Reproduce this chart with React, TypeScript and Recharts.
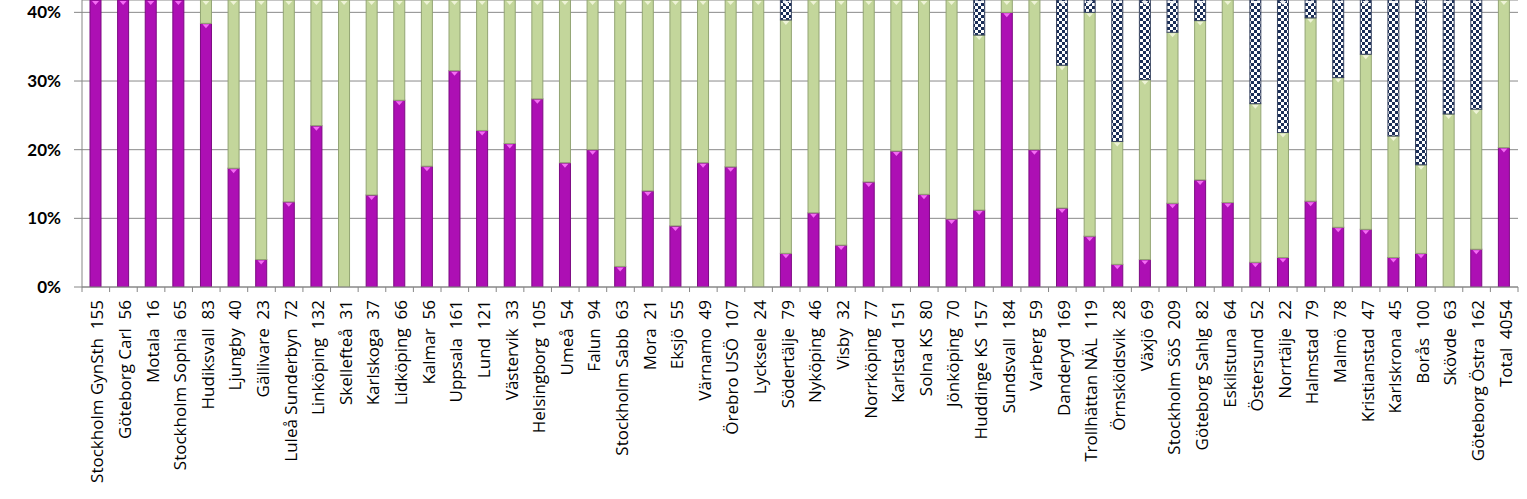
import React from 'react';
import { BarChart, Bar, XAxis, YAxis, CartesianGrid } from 'recharts';

const categories = [
  'Stockholm GynSth  155', 'Göteborg Carl  56', 'Motala  16', 'Stockholm Sophia  65', 'Hudiksvall  83',
  'Ljungby  40', 'Gällivare  23', 'Luleå Sunderbyn  72', 'Linköping  132', 'Skellefteå  31',
  'Karlskoga  37', 'Lidköping  66', 'Kalmar  56', 'Uppsala  161', 'Lund  121',
  'Västervik  33', 'Helsingborg  105', 'Umeå  54', 'Falun  94', 'Stockholm Sabb  63',
  'Mora  21', 'Eksjö  55', 'Värnamo  49', 'Örebro USÖ  107', 'Lycksele  24',
  'Södertälje  79', 'Nyköping  46', 'Visby  32', 'Norrköping  77', 'Karlstad  151',
  'Solna KS  80', 'Jönköping  70', 'Huddinge KS  157', 'Sundsvall  184', 'Varberg  59',
  'Danderyd  169', 'Trollhättan NÄL  119', 'Örnsköldsvik  28', 'Växjö  69', 'Stockholm SöS  209',
  'Göteborg Sahlg  82', 'Eskilstuna  64', 'Östersund  52', 'Norrtälje  22', 'Halmstad  79',
  'Malmö  78', 'Kristianstad  47', 'Karlskrona  45', 'Borås  100', 'Skövde  63',
  'Göteborg Östra  162', 'Total  4054',
];

// bottom segment (magenta), %
const magentaPct = [
  62, 55, 69, 52, 38.4, 17.3, 4.0, 12.4, 23.5, 0,
  13.4, 27.2, 17.6, 31.5, 22.8, 20.9, 27.4, 18.1, 20.0, 3.0,
  14.0, 8.9, 18.1, 17.5, 0, 4.9, 10.8, 6.1, 15.3, 19.8,
  13.5, 9.9, 11.2, 40.0, 20.0, 11.5, 7.4, 3.3, 4.0, 12.2,
  15.6, 12.3, 3.6, 4.3, 12.5, 8.7, 8.4, 4.3, 4.9, 0,
  5.5, 20.3,
];

// middle segment (green), %
const greenPct = [
  38, 45, 31, 48, 61.6, 82.7, 96.0, 87.6, 76.5, 100,
  86.6, 72.8, 82.4, 68.5, 77.2, 79.1, 72.6, 81.9, 80.0, 97.0,
  86.0, 91.1, 81.9, 82.5, 100, 34.0, 89.2, 93.9, 84.7, 80.2,
  86.5, 90.1, 25.5, 60.0, 80.0, 20.8, 32.6, 17.9, 26.2, 24.9,
  23.2, 87.7, 23.1, 18.2, 26.7, 21.8, 25.5, 17.7, 12.9, 25.2,
  20.4, 79.7,
];

// top segment (checkered), %
const checkPct = [
  0, 0, 0, 0, 0, 0, 0, 0, 0, 0,
  0, 0, 0, 0, 0, 0, 0, 0, 0, 0,
  0, 0, 0, 0, 0, 61.1, 0, 0, 0, 0,
  0, 0, 63.3, 0, 0, 67.7, 60.0, 78.8, 69.8, 62.9,
  61.2, 0, 73.3, 77.5, 60.8, 69.5, 66.1, 78.0, 82.2, 74.8,
  74.1, 0,
];

const yTicks = [0, 10, 20, 30, 40];

const data = categories.map((name, i) => ({
  name,
  a: magentaPct[i],
  b: greenPct[i],
  c: checkPct[i],
}));

const W = 1527;
const H = 499;
const Y_AXIS_W = 82;
const RIGHT = 9;
const BAND = (W - Y_AXIS_W - RIGHT) / categories.length;
const FONT = 'Lato, "Open Sans", sans-serif';
const LABEL_FONT = '"Open Sans", sans-serif';

function makeSegment(fill: string, edge: string, cap: string) {
  return (props: any) => {
    const { x, y, width, height } = props;
    if (!height || height <= 0) return <g />;
    const cx = x + width / 2;
    return (
      <g>
        <rect x={x} y={y} width={width} height={height} fill={fill} stroke={edge} strokeWidth={1} />
        {height > 5 && (
          <polygon
            points={`${cx - 3.5},${y + 1} ${cx + 3.5},${y + 1} ${cx},${y + 5}`}
            fill={cap}
          />
        )}
      </g>
    );
  };
}

const MagentaBar = makeSegment('#ad0fb4', '#7c0a82', '#f46cf4');
const GreenBar = makeSegment('#c3d69b', '#93a474', '#eef3d6');
const CheckBar = makeSegment('url(#checker)', '#3a4662', '#f4f6fa');

function CategoryTick(props: any) {
  const { x, y, payload, index } = props;
  const last = index === categories.length - 1;
  return (
    <g>
      <line x1={x - BAND / 2} y1={y} x2={x - BAND / 2} y2={y + 5} stroke="#868686" />
      {last && <line x1={x + BAND / 2} y1={y} x2={x + BAND / 2} y2={y + 5} stroke="#868686" />}
      <text
        transform={`translate(${x + 1},${y + 13}) rotate(-90)`}
        textAnchor="end"
        dominantBaseline="central"
        fontSize={17}
        fontFamily={LABEL_FONT}
        fill="#000"
        style={{ whiteSpace: 'pre' }}
      >
        {payload.value}
      </text>
    </g>
  );
}

export default function App() {
  return (
    <div style={{ position: 'absolute', left: 0, top: 0, width: W, height: H, background: '#fff' }}>
      <svg width={0} height={0} style={{ position: 'absolute' }}>
        <defs>
          <pattern id="checker" width={6} height={6} patternUnits="userSpaceOnUse">
            <rect width={6} height={6} fill="#ffffff" />
            <rect width={3} height={3} fill="#1a2e58" />
            <rect x={3} y={3} width={3} height={3} fill="#1a2e58" />
          </pattern>
        </defs>
      </svg>
      <BarChart
        width={W}
        height={H}
        data={data}
        margin={{ top: 0, right: RIGHT, left: 0, bottom: 0 }}
        barSize={11}
      >
        <CartesianGrid vertical={false} stroke="#8a8a8a" />
        <XAxis
          dataKey="name"
          interval={0}
          height={212}
          tickSize={0}
          tickMargin={0}
          tick={<CategoryTick />}
          axisLine={{ stroke: '#868686' }}
          tickLine={false}
        />
        <YAxis
          width={Y_AXIS_W}
          domain={[0, 41.8]}
          allowDataOverflow
          ticks={yTicks}
          tickFormatter={(v: number) => `${v}%`}
          tickSize={8}
          tickMargin={13}
          axisLine={{ stroke: '#868686' }}
          tickLine={{ stroke: '#868686' }}
          tick={{ fill: '#000', fontSize: 17, fontWeight: 700, fontFamily: FONT }}
        />
        <Bar dataKey="a" stackId="s" shape={MagentaBar} isAnimationActive={false} />
        <Bar dataKey="b" stackId="s" shape={GreenBar} isAnimationActive={false} />
        <Bar dataKey="c" stackId="s" shape={CheckBar} isAnimationActive={false} />
      </BarChart>
    </div>
  );
}
